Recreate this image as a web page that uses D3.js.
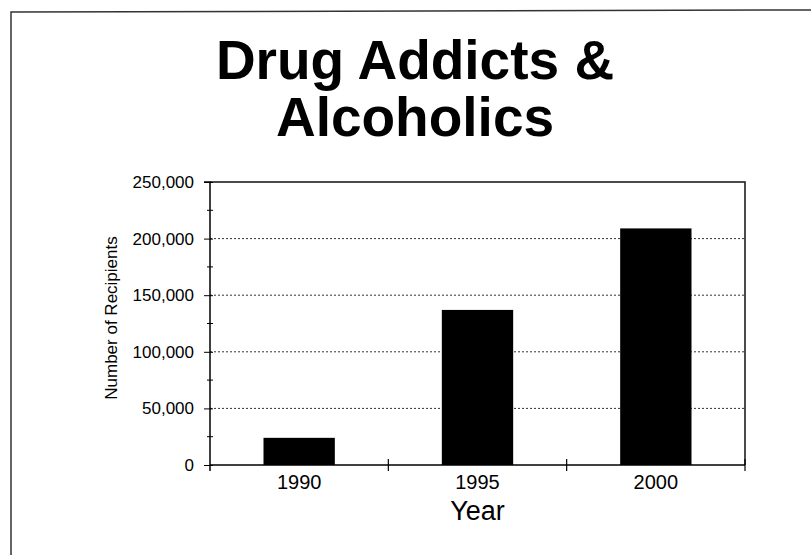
<!DOCTYPE html>
<html>
<head>
<meta charset="utf-8">
<script src="https://cdn.jsdelivr.net/npm/d3@7"></script>
<style>
  html, body { margin: 0; padding: 0; background: #fff; }
  svg { display: block; font-family: "Liberation Sans", Arial, sans-serif; }
</style>
</head>
<body>
<svg id="chart"></svg>
<script>
const years = ["1990", "1995", "2000"];
const recipients = [24000, 137000, 209000];
const yTicks = [0, 50000, 100000, 150000, 200000, 250000];
const titleLines = ["Drug Addicts &", "Alcoholics"];

const W = 811, H = 555;
const margin = { top: 182, right: 66, bottom: 90, left: 210 };
const width = W - margin.left - margin.right;
const height = H - margin.top - margin.bottom;

const svg = d3.select("#chart").attr("width", W).attr("height", H);

// page frame (scanned slide edge)
svg.append("path")
  .attr("d", "M11,555 L11,12 L811,10")
  .attr("fill", "none")
  .attr("stroke", "#333")
  .attr("stroke-width", 1.5);

// title
svg.append("g").selectAll("text")
  .data(titleLines)
  .enter().append("text")
  .attr("x", 415)
  .attr("y", (d, i) => 79 + i * 57)
  .attr("text-anchor", "middle")
  .style("font-size", "55px")
  .style("font-weight", "bold")
  .style("fill", "#000")
  .text(d => d);

const g = svg.append("g")
  .attr("transform", `translate(${margin.left},${margin.top})`);

// scales
const x = d3.scaleBand()
  .domain(years)
  .range([0, width])
  .paddingInner(0.6)
  .paddingOuter(0.3);

const y = d3.scaleLinear()
  .domain([0, 250000])
  .range([height, 0]);

// dotted gridlines
g.append("g")
  .selectAll("line")
  .data(yTicks.filter(d => d > 0 && d < 250000))
  .enter().append("line")
  .attr("x1", 0)
  .attr("x2", width)
  .attr("y1", d => y(d))
  .attr("y2", d => y(d))
  .attr("stroke", "#333")
  .attr("stroke-width", 1)
  .attr("stroke-dasharray", "2,2");

// plot frame top + right
g.append("path")
  .attr("d", `M0,${y(250000)} H${width} V${height}`)
  .attr("fill", "none")
  .attr("stroke", "#111")
  .attr("stroke-width", 1.5);

// bars
g.selectAll(".bar")
  .data(years)
  .enter().append("rect")
  .attr("class", "bar")
  .attr("x", d => x(d))
  .attr("width", x.bandwidth())
  .attr("y", (d, i) => y(recipients[i]))
  .attr("height", (d, i) => height - y(recipients[i]))
  .attr("fill", "#000");

// y axis
const yAxis = g.append("g")
  .call(d3.axisLeft(y).tickValues(yTicks).tickSize(6).tickPadding(10)
    .tickFormat(d3.format(",")));
yAxis.select(".domain").attr("stroke", "#000").attr("stroke-width", 1.5)
  .attr("d", `M-6,0 H0 V${height + 6}`);
yAxis.selectAll(".tick line").attr("stroke", "#000").attr("x1", 3);
yAxis.selectAll("text").style("font-size", "17px").style("fill", "#000");

// minor y ticks
g.append("g").selectAll("line")
  .data(d3.range(25000, 250000, 50000))
  .enter().append("line")
  .attr("x1", -3).attr("x2", 3)
  .attr("y1", d => y(d)).attr("y2", d => y(d))
  .attr("stroke", "#000");

// x axis
const xAxis = g.append("g")
  .attr("transform", `translate(0,${height})`)
  .call(d3.axisBottom(x).tickSize(0).tickPadding(10));
xAxis.select(".domain").attr("stroke", "#000").attr("stroke-width", 1.5)
  .attr("d", `M0,0 H${width}`);
xAxis.selectAll("text").style("font-size", "20px").style("fill", "#000");

// category separator ticks
g.append("g").selectAll("line")
  .data(d3.range(1, years.length + 1))
  .enter().append("line")
  .attr("x1", i => i * x.step())
  .attr("x2", i => i * x.step())
  .attr("y1", height - 6)
  .attr("y2", height + 6)
  .attr("stroke", "#000")
  .attr("stroke-width", 1.2);

// axis titles
g.append("text")
  .attr("x", width / 2)
  .attr("y", height + 55)
  .attr("text-anchor", "middle")
  .style("font-size", "27px")
  .style("fill", "#000")
  .text("Year");

g.append("text")
  .attr("transform", `translate(${117 - margin.left},${318 - margin.top}) rotate(-90)`)
  .attr("text-anchor", "middle")
  .style("font-size", "17px")
  .style("fill", "#000")
  .text("Number of Recipients");
</script>
</body>
</html>
